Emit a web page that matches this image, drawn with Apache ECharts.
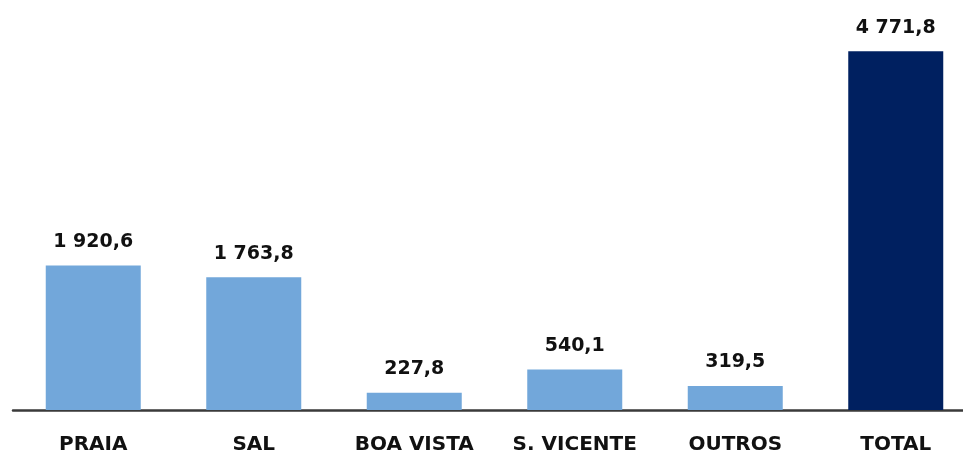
<!DOCTYPE html>
<html>
<head>
<meta charset="utf-8">
<script src="https://cdn.jsdelivr.net/npm/echarts@6/dist/echarts.min.js"></script>
<style>
  html, body { margin: 0; padding: 0; background: #fff; }
  #chart { width: 963px; height: 455px; }
</style>
</head>
<body>
<div id="chart"></div>
<script>
const categories = ['PRAIA', 'SAL', 'BOA VISTA', 'S. VICENTE', 'OUTROS', 'TOTAL']
const values = [1920.6, 1763.8, 227.8, 540.1, 319.5, 4771.8]
const barColors = ['#72a7da', '#72a7da', '#72a7da', '#72a7da', '#72a7da', '#002060']

// 1 920,6 style: space for thousands, comma for decimals
function fmt(v) {
  const parts = v.toFixed(1).split('.')
  const intPart = parts[0].replace(/\B(?=(\d{3})+(?!\d))/g, ' ')
  return intPart + ',' + parts[1]
}

const chart = echarts.init(document.getElementById('chart'))
chart.setOption({
  animation: false,
  grid: {
    left: 13,
    width: 963,
    top: 34,
    bottom: 45,
    containLabel: false,
    outerBoundsMode: 'none'
  },
  xAxis: {
    type: 'category',
    data: categories,
    axisTick: { show: false },
    axisLine: { lineStyle: { color: '#3a3a3a', width: 2.5 } },
    axisLabel: {
      interval: 0,
      margin: 25,
      color: '#111',
      fontFamily: 'DejaVu Sans',
      fontWeight: 'bold',
      fontSize: 20
    }
  },
  yAxis: {
    type: 'value',
    min: 0,
    max: 5000,
    show: false,
    splitLine: { show: false }
  },
  series: [{
    type: 'bar',
    barWidth: 95,
    data: values.map((v, i) => ({ value: v, itemStyle: { color: barColors[i] } })),
    label: {
      show: true,
      position: 'top',
      distance: 14,
      color: '#111',
      fontFamily: 'DejaVu Sans',
      fontWeight: 'bold',
      fontSize: 19,
      formatter: p => fmt(p.value)
    }
  }]
})
</script>
</body>
</html>
